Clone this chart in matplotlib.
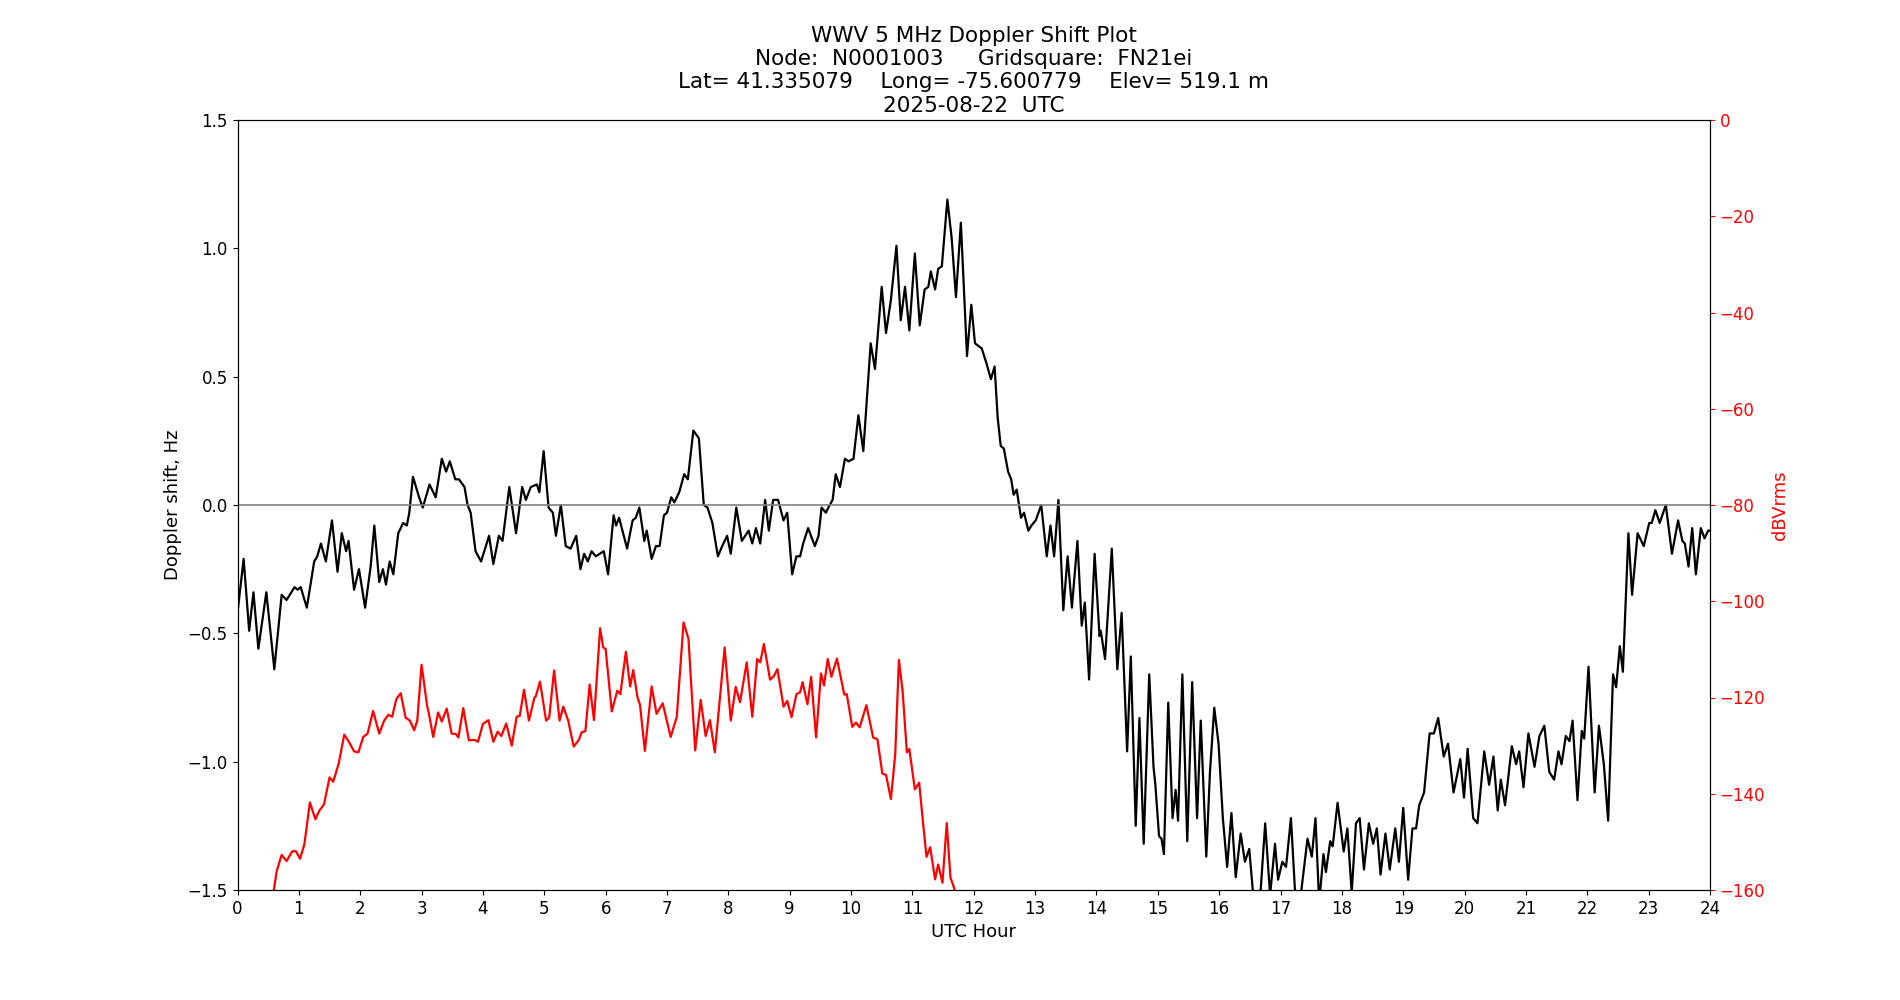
import matplotlib
matplotlib.use("Agg")
import matplotlib.pyplot as plt

# Doppler shift (Hz), by UTC hour
doppler_hours = [
    0.00, 0.10, 0.19, 0.26, 0.34, 0.47, 0.60, 0.72, 0.80, 0.93, 0.98, 1.03, 1.13, 1.25, 1.30,
    1.36, 1.44, 1.54, 1.63, 1.70, 1.77, 1.81, 1.90, 1.98, 2.08, 2.17, 2.23, 2.31, 2.37, 2.42,
    2.48, 2.54, 2.62, 2.70, 2.76, 2.80, 2.86, 2.96, 3.02, 3.13, 3.23, 3.33, 3.40, 3.46, 3.55,
    3.61, 3.70, 3.75, 3.80, 3.88, 3.97, 4.10, 4.17, 4.26, 4.32, 4.43, 4.54, 4.64, 4.70, 4.78,
    4.88, 4.92, 4.99, 5.07, 5.14, 5.19, 5.27, 5.35, 5.43, 5.52, 5.59, 5.65, 5.71, 5.77, 5.84,
    5.97, 6.04, 6.13, 6.17, 6.22, 6.35, 6.44, 6.49, 6.55, 6.63, 6.67, 6.75, 6.82, 6.88, 6.95,
    7.00, 7.07, 7.12, 7.20, 7.28, 7.34, 7.43, 7.52, 7.60, 7.66, 7.74, 7.83, 7.90, 7.98, 8.04,
    8.13, 8.22, 8.33, 8.39, 8.45, 8.52, 8.60, 8.66, 8.73, 8.81, 8.90, 8.96, 9.04, 9.11, 9.17,
    9.22, 9.30, 9.41, 9.47, 9.52, 9.59, 9.63, 9.70, 9.75, 9.82, 9.90, 9.96, 10.04, 10.12, 10.20,
    10.32, 10.39, 10.50, 10.57, 10.65, 10.74, 10.81, 10.88, 10.95, 11.04, 11.12, 11.20, 11.26, 11.30, 11.37,
    11.42, 11.48, 11.57, 11.64, 11.71, 11.79, 11.89, 11.96, 12.02, 12.13, 12.21, 12.28, 12.34, 12.39, 12.44,
    12.49, 12.56, 12.61, 12.65, 12.70, 12.77, 12.82, 12.89, 12.94, 13.01, 13.10, 13.19, 13.25, 13.31, 13.38,
    13.46, 13.53, 13.60, 13.69, 13.76, 13.81, 13.88, 13.97, 14.05, 14.07, 14.14, 14.25, 14.34, 14.41, 14.50,
    14.56, 14.64, 14.70, 14.77, 14.86, 14.93, 14.96, 15.02, 15.06, 15.10, 15.17, 15.24, 15.29, 15.33, 15.40,
    15.48, 15.56, 15.64, 15.70, 15.79, 15.85, 15.92, 15.99, 16.06, 16.13, 16.20, 16.27, 16.35, 16.42, 16.49,
    16.62, 16.75, 16.83, 16.91, 16.96, 17.03, 17.09, 17.17, 17.27, 17.34, 17.44, 17.51, 17.57, 17.63, 17.70,
    17.74, 17.81, 17.85, 17.93, 18.03, 18.09, 18.16, 18.23, 18.29, 18.36, 18.44, 18.51, 18.57, 18.63, 18.71,
    18.78, 18.87, 18.93, 19.00, 19.08, 19.15, 19.21, 19.26, 19.34, 19.43, 19.50, 19.57, 19.66, 19.73, 19.82,
    19.93, 19.99, 20.05, 20.14, 20.21, 20.32, 20.40, 20.47, 20.54, 20.59, 20.66, 20.77, 20.84, 20.89, 20.96,
    21.04, 21.14, 21.22, 21.30, 21.38, 21.46, 21.53, 21.58, 21.65, 21.71, 21.76, 21.84, 21.91, 21.95, 22.02,
    22.12, 22.19, 22.27, 22.34, 22.42, 22.47, 22.53, 22.58, 22.67, 22.73, 22.82, 22.92, 23.01, 23.05, 23.11,
    23.18, 23.28, 23.38, 23.48, 23.55, 23.59, 23.65, 23.71, 23.77, 23.85, 23.91, 23.97, 24.00,
]
doppler_hz = [
    -0.42, -0.21, -0.49, -0.34, -0.56, -0.34, -0.64, -0.35, -0.37, -0.32, -0.33, -0.32, -0.40, -0.22, -0.20,
    -0.15, -0.22, -0.06, -0.26, -0.11, -0.18, -0.14, -0.33, -0.25, -0.40, -0.24, -0.08, -0.30, -0.25, -0.31,
    -0.22, -0.27, -0.11, -0.07, -0.08, -0.03, 0.11, 0.03, -0.01, 0.08, 0.03, 0.18, 0.13, 0.17, 0.10,
    0.10, 0.07, 0.00, -0.03, -0.18, -0.22, -0.12, -0.23, -0.12, -0.14, 0.07, -0.11, 0.07, 0.02, 0.07,
    0.08, 0.05, 0.21, -0.01, -0.03, -0.12, 0.00, -0.16, -0.17, -0.12, -0.25, -0.19, -0.22, -0.18, -0.20,
    -0.18, -0.27, -0.04, -0.08, -0.05, -0.17, -0.06, -0.05, -0.01, -0.14, -0.10, -0.21, -0.16, -0.16, -0.04,
    -0.03, 0.03, 0.01, 0.05, 0.12, 0.10, 0.29, 0.26, 0.00, -0.01, -0.07, -0.20, -0.16, -0.12, -0.19,
    -0.01, -0.14, -0.10, -0.15, -0.09, -0.15, 0.02, -0.10, 0.02, 0.02, -0.06, -0.03, -0.27, -0.20, -0.20,
    -0.15, -0.09, -0.16, -0.12, -0.01, -0.03, -0.01, 0.02, 0.12, 0.07, 0.18, 0.17, 0.18, 0.35, 0.21,
    0.63, 0.53, 0.85, 0.67, 0.80, 1.01, 0.72, 0.85, 0.68, 0.98, 0.70, 0.84, 0.85, 0.91, 0.84,
    0.92, 0.93, 1.19, 1.04, 0.81, 1.10, 0.58, 0.78, 0.63, 0.61, 0.55, 0.49, 0.54, 0.34, 0.23,
    0.22, 0.13, 0.10, 0.04, 0.06, -0.05, -0.03, -0.10, -0.08, -0.06, 0.00, -0.20, -0.08, -0.20, 0.02,
    -0.41, -0.20, -0.40, -0.14, -0.47, -0.38, -0.68, -0.19, -0.51, -0.49, -0.60, -0.17, -0.64, -0.42, -0.96,
    -0.59, -1.25, -0.83, -1.32, -0.66, -1.02, -1.09, -1.29, -1.30, -1.36, -0.77, -1.22, -1.11, -1.23, -0.66,
    -1.31, -0.69, -1.22, -0.84, -1.37, -1.04, -0.79, -0.93, -1.22, -1.41, -1.20, -1.45, -1.28, -1.39, -1.34,
    -1.70, -1.24, -1.52, -1.32, -1.46, -1.39, -1.41, -1.22, -1.65, -1.50, -1.30, -1.37, -1.22, -1.55, -1.36,
    -1.43, -1.31, -1.33, -1.16, -1.35, -1.26, -1.51, -1.24, -1.22, -1.42, -1.24, -1.32, -1.26, -1.44, -1.28,
    -1.42, -1.26, -1.39, -1.18, -1.46, -1.26, -1.26, -1.17, -1.12, -0.89, -0.89, -0.83, -0.98, -0.93, -1.12,
    -0.99, -1.14, -0.95, -1.22, -1.24, -0.96, -1.09, -0.98, -1.19, -1.07, -1.17, -0.94, -1.01, -0.96, -1.10,
    -0.89, -1.02, -0.90, -0.86, -1.04, -1.07, -0.96, -1.01, -0.90, -0.92, -0.84, -1.15, -0.88, -0.91, -0.63,
    -1.12, -0.86, -1.01, -1.23, -0.66, -0.71, -0.55, -0.65, -0.11, -0.35, -0.11, -0.16, -0.07, -0.07, -0.02,
    -0.07, 0.00, -0.19, -0.06, -0.14, -0.15, -0.24, -0.09, -0.27, -0.09, -0.13, -0.10, -0.10,
]

# received signal level (dBVrms), drops off the bottom of the scale after ~11.7 UTC
signal_hours = [
    0.50, 0.59, 0.64, 0.72, 0.80, 0.89, 0.95, 1.02, 1.09, 1.18, 1.27, 1.33, 1.41, 1.50, 1.56,
    1.65, 1.74, 1.82, 1.90, 1.97, 2.05, 2.12, 2.21, 2.31, 2.39, 2.46, 2.52, 2.59, 2.66, 2.74,
    2.81, 2.88, 2.93, 3.00, 3.09, 3.12, 3.19, 3.27, 3.33, 3.41, 3.49, 3.56, 3.60, 3.68, 3.77,
    3.86, 3.92, 4.00, 4.09, 4.17, 4.24, 4.30, 4.38, 4.47, 4.55, 4.60, 4.67, 4.75, 4.84, 4.86,
    4.93, 5.03, 5.08, 5.16, 5.25, 5.31, 5.39, 5.48, 5.56, 5.61, 5.67, 5.74, 5.81, 5.91, 5.96,
    6.00, 6.10, 6.19, 6.24, 6.33, 6.40, 6.45, 6.52, 6.56, 6.64, 6.75, 6.83, 6.93, 7.06, 7.16,
    7.27, 7.35, 7.46, 7.55, 7.63, 7.70, 7.78, 7.94, 8.04, 8.12, 8.19, 8.30, 8.39, 8.47, 8.52,
    8.58, 8.68, 8.74, 8.80, 8.90, 8.96, 9.03, 9.11, 9.17, 9.21, 9.29, 9.35, 9.43, 9.51, 9.56,
    9.62, 9.68, 9.77, 9.89, 9.93, 10.02, 10.08, 10.14, 10.25, 10.36, 10.43, 10.51, 10.57, 10.65, 10.72,
    10.78, 10.84, 10.91, 10.95, 11.04, 11.11, 11.17, 11.23, 11.29, 11.37, 11.42, 11.49, 11.56, 11.62, 11.67,
    11.75,
]
signal_dbv = [
    -165.0, -160.2, -156.0, -152.7, -154.0, -152.0, -151.9, -153.5, -150.5, -141.8, -145.3, -143.6, -142.2, -136.6, -137.5,
    -133.7, -127.7, -129.3, -131.2, -131.4, -128.2, -127.5, -122.8, -127.5, -124.8, -123.6, -124.0, -120.3, -119.1, -124.2,
    -124.8, -126.8, -124.8, -113.2, -121.7, -123.4, -128.2, -123.1, -125.0, -122.3, -127.5, -127.6, -128.3, -122.2, -128.9,
    -128.8, -129.2, -125.5, -124.7, -129.2, -127.1, -128.0, -125.4, -130.0, -124.0, -123.8, -118.4, -124.8, -120.0, -119.8,
    -116.7, -124.8, -124.2, -114.4, -124.8, -121.9, -124.8, -130.2, -128.9, -127.2, -127.0, -117.3, -124.7, -105.6, -109.6,
    -109.9, -122.9, -118.6, -119.3, -110.5, -117.7, -114.3, -120.0, -121.5, -131.1, -117.7, -123.4, -121.2, -128.2, -124.0,
    -104.4, -107.8, -131.0, -120.5, -128.0, -124.7, -131.4, -109.6, -124.8, -117.8, -121.0, -112.7, -124.0, -112.0, -112.7,
    -108.9, -116.3, -115.6, -114.1, -121.9, -120.7, -124.1, -119.3, -118.9, -116.8, -121.4, -115.7, -128.3, -115.0, -117.5,
    -112.0, -115.7, -111.9, -119.4, -119.3, -126.1, -125.2, -126.2, -121.6, -128.3, -128.7, -135.8, -136.1, -141.1, -131.8,
    -112.2, -118.6, -131.4, -130.7, -139.1, -137.7, -145.6, -153.1, -151.1, -157.8, -154.7, -158.5, -146.1, -157.4, -159.2,
    -163.0,
]

hour_ticks = list(range(25))
doppler_ticks = [-1.5, -1.0, -0.5, 0.0, 0.5, 1.0, 1.5]
signal_ticks = [0, -20, -40, -60, -80, -100, -120, -140, -160]

title = ("WWV 5 MHz Doppler Shift Plot\n"
         "Node:  N0001003     Gridsquare:  FN21ei\n"
         "Lat= 41.335079    Long= -75.600779    Elev= 519.1 m\n"
         "2025-08-22  UTC")

fig, ax = plt.subplots(figsize=(19, 10), dpi=100)

ax.plot(doppler_hours, doppler_hz, color='black', linewidth=1.6)
ax.axhline(0, color='gray', linewidth=1.2)
ax.set_xlim(0, 24)
ax.set_ylim(-1.5, 1.5)
ax.set_xticks(hour_ticks)
ax.set_yticks(doppler_ticks)
ax.set_xlabel('UTC Hour', fontsize=13)
ax.set_ylabel('Doppler shift, Hz', fontsize=13)
ax.tick_params(labelsize=12)
ax.set_title(title, fontsize=15.5)

# second axis for the signal level
ax2 = ax.twinx()
ax2.plot(signal_hours, signal_dbv, color='red', linewidth=1.6)
ax2.set_ylim(-160, 0)
ax2.set_yticks(signal_ticks)
ax2.set_ylabel('dBVrms', color='red', fontsize=13)
ax2.tick_params(axis='y', colors='red', labelsize=12)

fig.savefig('out.png', dpi=100)
plt.close(fig)
